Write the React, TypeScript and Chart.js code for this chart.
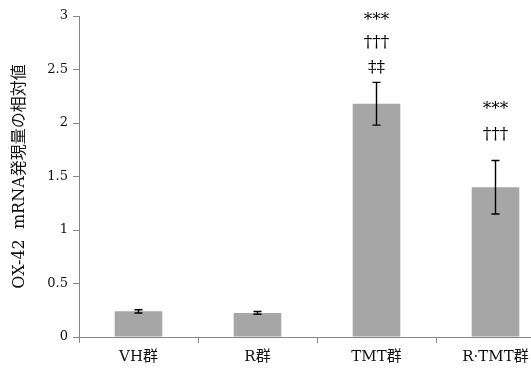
import React, { useEffect, useRef } from "react";
import { Chart, registerables } from "chart.js";

Chart.register(...registerables);

const categories = ["VH群", "R群", "TMT群", "R·TMT群"];
const means = [0.24, 0.225, 2.18, 1.40];
const errors = [0.015, 0.013, 0.2, 0.25];
const yTicks = [0, 0.5, 1, 1.5, 2, 2.5, 3];
const yTitle = "OX-42  mRNA発現量の相対値";
// significance marks: category index, text, value level
const markCategory = [2, 2, 2, 3, 3];
const markText = ["***", "†††", "‡‡", "***", "†††"];
const markLevel = [2.96, 2.75, 2.52, 2.13, 1.89];

const SERIF = '"DejaVu Serif", "Liberation Serif", "Noto Sans CJK JP", serif';

const errorBarPlugin = {
  id: "errorBars",
  afterDatasetsDraw(chart: any) {
    const ctx = chart.ctx;
    const meta = chart.getDatasetMeta(0);
    const y = chart.scales.y;
    ctx.save();
    ctx.strokeStyle = "#000";
    ctx.lineWidth = 1.4;
    meta.data.forEach((bar: any, i: number) => {
      const x = bar.x;
      const top = y.getPixelForValue(means[i] + errors[i]);
      const bot = y.getPixelForValue(means[i] - errors[i]);
      ctx.beginPath();
      ctx.moveTo(x, top);
      ctx.lineTo(x, bot);
      ctx.moveTo(x - 4, top);
      ctx.lineTo(x + 4, top);
      ctx.moveTo(x - 4, bot);
      ctx.lineTo(x + 4, bot);
      ctx.stroke();
    });
    ctx.fillStyle = "#000";
    ctx.font = "17px " + SERIF;
    ctx.textAlign = "center";
    ctx.textBaseline = "middle";
    markText.forEach((t, k) => {
      const bar = meta.data[markCategory[k]];
      ctx.fillText(t, bar.x, y.getPixelForValue(markLevel[k]));
    });
    ctx.restore();
  },
};

export default function App() {
  const ref = useRef<HTMLCanvasElement>(null);
  useEffect(() => {
    if (!ref.current) return;
    const chart = new Chart(ref.current, {
      type: "bar",
      data: {
        labels: categories,
        datasets: [
          {
            data: means,
            backgroundColor: "#a6a6a6",
            borderWidth: 0,
            barPercentage: 0.4,
            categoryPercentage: 1,
          },
        ],
      },
      options: {
        responsive: false,
        animation: false,
        devicePixelRatio: 1,
        layout: { padding: { top: 16, right: 5, left: 0, bottom: 0 } },
        plugins: { legend: { display: false }, tooltip: { enabled: false } },
        scales: {
          x: {
            afterFit(scale: any) {
              scale.height = 41;
            },
            grid: {
              offset: true,
              drawOnChartArea: false,
              drawTicks: true,
              tickLength: 6,
              color: "#868686",
            },
            border: { color: "#868686", width: 1 },
            ticks: {
              color: "#111",
              padding: 5,
              font: { family: SERIF, size: 15 },
              maxRotation: 0,
            },
          },
          y: {
            min: 0,
            max: 3,
            afterFit(scale: any) {
              scale.width = 79;
            },
            afterBuildTicks(scale: any) {
              scale.ticks = yTicks.map((v) => ({ value: v }));
            },
            grid: {
              drawOnChartArea: false,
              drawTicks: true,
              tickLength: 6,
              color: "#868686",
            },
            border: { color: "#868686", width: 1 },
            ticks: {
              color: "#111",
              padding: 5,
              font: { family: SERIF, size: 13 },
              callback: (v: any) => String(v),
            },
            title: {
              display: true,
              text: yTitle,
              color: "#111",
              font: { family: SERIF, size: 16 },
              padding: { top: 10, bottom: 0 },
            },
          },
        },
      },
      plugins: [errorBarPlugin],
    });
    return () => chart.destroy();
  }, []);
  return (
    <div
      style={{
        position: "fixed",
        left: 0,
        top: 0,
        width: 531,
        height: 378,
        overflow: "hidden",
        background: "#fff",
      }}
    >
      <canvas ref={ref} width={560} height={378} style={{ display: "block" }} />
    </div>
  );
}
